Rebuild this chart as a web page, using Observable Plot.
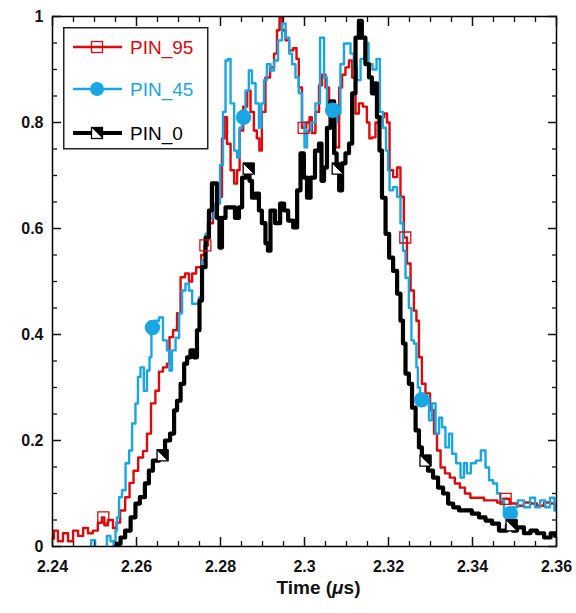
<!DOCTYPE html>
<html>
<head>
<meta charset="utf-8">
<script src="https://cdn.jsdelivr.net/npm/d3@7"></script>
<script src="https://cdn.jsdelivr.net/npm/@observablehq/plot@0.6"></script>
<style>
  body { margin: 0; background: #fff; }
  #chart { position: relative; width: 576px; height: 613px; }
  #legend { position: absolute; left: 63px; top: 27px; }
</style>
</head>
<body>
<div id="chart"></div>
<script>
// ---------- data ----------
const seriesNames = ["PIN_95", "PIN_45", "PIN_0"];
const seriesColors = ["#dc0a0a", "#1aa6e2", "#000000"];

const pin95T = [2.2400,2.2407,2.2419,2.2431,2.2443,2.2455,2.2467,2.2479,2.2490,2.2502,2.2514,2.2521,2.2526,2.2538,2.2550,2.2555,2.2567,2.2579,2.2588,2.2598,2.2610,2.2621,2.2629,2.2640,2.2650,2.2657,2.2669,2.2676,2.2681,2.2693,2.2700,2.2710,2.2721,2.2729,2.2736,2.2748,2.2760,2.2764,2.2776,2.2788,2.2800,2.2807,2.2812,2.2819,2.2829,2.2836,2.2843,2.2848,2.2860,2.2867,2.2876,2.2883,2.2890,2.2895,2.2902,2.2912,2.2924,2.2931,2.2938,2.2943,2.2950,2.2960,2.2967,2.2979,2.2983,2.2990,2.2998,2.3010,2.3014,2.3021,2.3031,2.3038,2.3045,2.3055,2.3062,2.3069,2.3079,2.3086,2.3093,2.3102,2.3110,2.3117,2.3126,2.3133,2.3145,2.3152,2.3157,2.3164,2.3174,2.3186,2.3193,2.3200,2.3205,2.3217,2.3224,2.3233,2.3240,2.3248,2.3257,2.3264,2.3269,2.3276,2.3283,2.3293,2.3305,2.3312,2.3319,2.3329,2.3340,2.3352,2.3364,2.3376,2.3388,2.3402,2.3419,2.3436,2.3450,2.3467,2.3479,2.3498,2.3514,2.3531,2.3545,2.3562,2.3579,2.3593,2.3600];
const pin95V = [0.015,0.03,0.01,0.025,0.01,0.03,0.02,0.035,0.025,0.03,0.045,0.055,0.04,0.05,0.035,0.045,0.068,0.093,0.12,0.143,0.168,0.18,0.213,0.27,0.294,0.33,0.338,0.345,0.395,0.408,0.44,0.508,0.515,0.50,0.515,0.527,0.55,0.568,0.61,0.634,0.66,0.77,0.81,0.76,0.71,0.685,0.71,0.785,0.83,0.86,0.82,0.785,0.77,0.747,0.82,0.885,0.904,0.93,0.974,0.998,0.974,0.955,0.936,0.94,0.92,0.866,0.79,0.80,0.81,0.78,0.82,0.87,0.89,0.866,0.82,0.80,0.753,0.866,0.89,0.904,0.917,0.885,0.817,0.836,0.83,0.80,0.77,0.772,0.80,0.81,0.817,0.80,0.71,0.697,0.715,0.66,0.583,0.534,0.483,0.445,0.426,0.357,0.307,0.289,0.257,0.213,0.181,0.149,0.138,0.130,0.119,0.111,0.10,0.092,0.092,0.087,0.087,0.083,0.09,0.081,0.077,0.083,0.081,0.077,0.083,0.081,0.07];

const pin45T = [2.2486,2.2498,2.2505,2.2526,2.2533,2.2543,2.2548,2.2552,2.2555,2.2562,2.2569,2.2579,2.2586,2.2593,2.2602,2.2605,2.2614,2.2621,2.2629,2.2633,2.2638,2.2650,2.2657,2.2669,2.2676,2.2681,2.2688,2.2698,2.2705,2.2712,2.2721,2.2729,2.2736,2.2745,2.2752,2.2760,2.2769,2.2776,2.2793,2.2805,2.2807,2.2817,2.2819,2.2829,2.2836,2.2843,2.2848,2.2855,2.2864,2.2871,2.2879,2.2888,2.2895,2.2900,2.2907,2.2914,2.2924,2.2931,2.2943,2.2950,2.2960,2.2967,2.2974,2.2983,2.2990,2.2998,2.3002,2.3010,2.3021,2.3031,2.3043,2.3050,2.3057,2.3067,2.3074,2.3081,2.3090,2.3098,2.3105,2.3114,2.3121,2.3129,2.3138,2.3148,2.3157,2.3167,2.3176,2.3183,2.3190,2.3198,2.3200,2.3205,2.3217,2.3224,2.3233,2.3236,2.3245,2.3252,2.3257,2.3264,2.3269,2.3271,2.3279,2.3293,2.3300,2.3307,2.3317,2.3324,2.3331,2.3340,2.3348,2.3355,2.3367,2.3376,2.3383,2.3390,2.3402,2.3414,2.3426,2.3436,2.3443,2.3455,2.3462,2.3471,2.3479,2.3490,2.3502,2.3514,2.3531,2.3543,2.3555,2.3567,2.3579,2.3590,2.3600];
const pin45V = [-0.05,0.012,-0.05,-0.05,0.02,0.01,-0.02,0.03,0.055,0.093,0.106,0.157,0.181,0.232,0.27,0.32,0.338,0.294,0.332,0.357,0.413,0.426,0.432,0.389,0.37,0.332,0.37,0.394,0.44,0.483,0.496,0.483,0.458,0.458,0.47,0.54,0.59,0.62,0.647,0.72,0.82,0.917,0.92,0.836,0.747,0.734,0.79,0.81,0.86,0.898,0.874,0.836,0.79,0.836,0.88,0.91,0.898,0.917,0.955,0.987,0.96,0.93,0.91,0.885,0.855,0.80,0.753,0.785,0.80,0.836,0.96,0.885,0.83,0.823,0.80,0.817,0.91,0.949,0.949,0.93,0.904,0.88,0.92,0.95,0.91,0.90,0.92,0.82,0.79,0.747,0.71,0.672,0.678,0.66,0.61,0.558,0.507,0.45,0.389,0.383,0.338,0.30,0.277,0.281,0.238,0.27,0.213,0.243,0.225,0.187,0.213,0.175,0.157,0.13,0.157,0.138,0.157,0.162,0.181,0.149,0.125,0.119,0.10,0.087,0.062,0.062,0.074,0.087,0.074,0.092,0.074,0.087,0.074,0.092,0.068];

const pin0T = [2.2550,2.2557,2.2567,2.2579,2.2593,2.2602,2.2614,2.2626,2.2633,2.2645,2.2662,2.2674,2.2686,2.2693,2.2700,2.2710,2.2717,2.2724,2.2733,2.2740,2.2748,2.2752,2.2760,2.2769,2.2776,2.2783,2.2788,2.2795,2.2800,2.2807,2.2817,2.2829,2.2840,2.2848,2.2855,2.2867,2.2871,2.2879,2.2888,2.2895,2.2902,2.2912,2.2914,2.2924,2.2936,2.2948,2.2955,2.2967,2.2979,2.2986,2.2995,2.3002,2.3010,2.3019,2.3031,2.3038,2.3043,2.3050,2.3057,2.3067,2.3074,2.3079,2.3086,2.3093,2.3102,2.3110,2.3117,2.3126,2.3133,2.3140,2.3150,2.3157,2.3164,2.3169,2.3176,2.3181,2.3188,2.3198,2.3205,2.3217,2.3224,2.3233,2.3236,2.3245,2.3252,2.3260,2.3269,2.3276,2.3283,2.3288,2.3300,2.3312,2.3324,2.3336,2.3348,2.3360,2.3376,2.3390,2.3407,2.3424,2.3438,2.3455,2.3471,2.3493,2.3498,2.3514,2.3531,2.3545,2.3562,2.3579,2.3593,2.3600];
const pin0V = [0,0.005,0.017,0.03,0.055,0.081,0.093,0.119,0.143,0.162,0.172,0.2,0.213,0.257,0.275,0.307,0.345,0.357,0.37,0.357,0.408,0.464,0.527,0.583,0.634,0.685,0.685,0.62,0.564,0.62,0.64,0.64,0.62,0.64,0.696,0.713,0.69,0.658,0.666,0.634,0.61,0.572,0.558,0.634,0.61,0.647,0.634,0.615,0.602,0.672,0.742,0.696,0.658,0.696,0.747,0.76,0.69,0.715,0.79,0.84,0.742,0.713,0.672,0.723,0.742,0.76,0.855,0.96,0.992,0.96,0.91,0.885,0.855,0.874,0.81,0.747,0.658,0.59,0.545,0.52,0.477,0.426,0.383,0.326,0.307,0.262,0.219,0.187,0.168,0.162,0.143,0.13,0.111,0.10,0.081,0.074,0.068,0.068,0.062,0.055,0.049,0.043,0.03,0.04,0.03,0.036,0.025,0.03,0.025,0.017,0.025,0.02];

// marker positions (time) for each series
const pin95MarkT = [2.2521, 2.2764, 2.2998, 2.3240, 2.3479];
const pin45MarkT = [2.2638, 2.2855, 2.3067, 2.3279, 2.3490];
const pin0MarkT  = [2.2662, 2.2867, 2.3079, 2.3288, 2.3493];

// axis ticks and labels
const xTicks = [2.24, 2.26, 2.28, 2.3, 2.32, 2.34, 2.36];
const xTickLabels = ["2.24", "2.26", "2.28", "2.3", "2.32", "2.34", "2.36"];
const xMinorTicks = [2.245,2.25,2.255,2.265,2.27,2.275,2.285,2.29,2.295,2.305,2.31,2.315,2.325,2.33,2.335,2.345,2.35,2.355];
const yTicks = [0, 0.2, 0.4, 0.6, 0.8, 1];
const yTickLabels = ["0", "0.2", "0.4", "0.6", "0.8", "1"];
const yMinorTicks = [0.05,0.1,0.15,0.25,0.3,0.35,0.45,0.5,0.55,0.65,0.7,0.75,0.85,0.9,0.95];
const xTitle = "Time (μs)";

// ---------- build tables ----------
const toRows = (T, V) => T.map((t, i) => ({t, v: V[i]}));
const rows95 = toRows(pin95T, pin95V);
const rows45 = toRows(pin45T, pin45V);
const rows0 = toRows(pin0T, pin0V);
function markRows(T, V, MT) {
  return MT.map(mt => {
    let best = 0;
    T.forEach((t, i) => { if (Math.abs(t - mt) < Math.abs(T[best] - mt)) best = i; });
    return {t: T[best], v: V[best]};
  });
}
const mk95 = markRows(pin95T, pin95V, pin95MarkT);
const mk45 = markRows(pin45T, pin45V, pin45MarkT);
const mk0 = markRows(pin0T, pin0V, pin0MarkT);
const xFmt = d => xTickLabels[xTicks.findIndex(t => Math.abs(t - d) < 1e-9)];
const yFmt = d => yTickLabels[yTicks.findIndex(t => Math.abs(t - d) < 1e-9)];

const halfTri = {
  draw(context, size) {
    const w = Math.sqrt(size) / 2;
    context.moveTo(-w, -w);
    context.lineTo(w, -w);
    context.lineTo(w, w);
    context.closePath();
  }
};

const chart = Plot.plot({
  width: 576,
  height: 613,
  marginLeft: 52,
  marginRight: 20,
  marginTop: 16,
  marginBottom: 67,
  x: {domain: [2.24, 2.36]},
  y: {domain: [0, 1]},
  style: {fontFamily: "'Liberation Sans', Arial, sans-serif", fontSize: "16px", fontWeight: "bold", color: "#111", background: "#fff"},
  marks: [
    Plot.line(rows95, {x: "t", y: "v", stroke: seriesColors[0], strokeWidth: 2.4, curve: "step", clip: true}),
    Plot.line(rows45, {x: "t", y: "v", stroke: seriesColors[1], strokeWidth: 2.4, curve: "step", clip: true}),
    Plot.line(rows0, {x: "t", y: "v", stroke: seriesColors[2], strokeWidth: 4.2, curve: "step", clip: true}),
    Plot.dot(mk95, {x: "t", y: "v", symbol: "square", r: 6.2, stroke: seriesColors[0], strokeWidth: 1.3, fill: "none"}),
    Plot.dot(mk45, {x: "t", y: "v", symbol: "circle", r: 7, fill: seriesColors[1], stroke: seriesColors[1]}),
    Plot.dot(mk0, {x: "t", y: "v", symbol: "square", r: 6.2, fill: "white", stroke: "black", strokeWidth: 1.3}),
    Plot.dot(mk0, {x: "t", y: "v", symbol: halfTri, r: 6.2, fill: "black", stroke: "black", strokeWidth: 1}),
    Plot.frame({stroke: "black", strokeWidth: 1.5}),
    // x axis
    Plot.axisX({ticks: xTicks, tickSize: 0, tickPadding: 14, tickFormat: xFmt, label: null}),
    Plot.axisX({ticks: xTicks, tickSize: -9, text: null, label: null, strokeWidth: 1.5}),
    Plot.axisX({ticks: xMinorTicks, tickSize: -5, text: null, label: null, strokeWidth: 1.3}),
    Plot.axisX({anchor: "top", ticks: xTicks, tickSize: -9, text: null, label: null, strokeWidth: 1.5}),
    Plot.axisX({anchor: "top", ticks: xMinorTicks, tickSize: -5, text: null, label: null, strokeWidth: 1.3}),
    // y axis
    Plot.axisY({ticks: yTicks, tickSize: 0, tickPadding: 9, tickFormat: yFmt, label: null}),
    Plot.axisY({ticks: yTicks, tickSize: -9, text: null, label: null, strokeWidth: 1.5}),
    Plot.axisY({ticks: yMinorTicks, tickSize: -5, text: null, label: null, strokeWidth: 1.3}),
    Plot.axisY({anchor: "right", ticks: yTicks, tickSize: -9, text: null, label: null, strokeWidth: 1.5}),
    Plot.axisY({anchor: "right", ticks: yMinorTicks, tickSize: -5, text: null, label: null, strokeWidth: 1.3}),
    Plot.text([xTitle], {frameAnchor: "bottom", dx: 14, dy: 47, fontSize: 19, fontWeight: "bold", fill: "#111"})
  ]
});

// italic mu in the axis title
d3.select(chart).selectAll("text").each(function () {
  if (this.textContent === xTitle) {
    const el = d3.select(this);
    el.text(null);
    el.append("tspan").text("Time (");
    el.append("tspan").attr("font-style", "italic").text("μ");
    el.append("tspan").text("s)");
  }
});

const container = document.getElementById("chart");
container.appendChild(chart);

// ---------- legend ----------
const lg = d3.select(container).append("svg")
  .attr("id", "legend")
  .attr("width", 146).attr("height", 123);
lg.append("rect").attr("x", 0.75).attr("y", 0.75).attr("width", 144).attr("height", 121)
  .attr("fill", "white").attr("stroke", "#222").attr("stroke-width", 1.5);
const rowY = [20, 62, 106];
const lineW = [2.4, 2.4, 4.2];
seriesNames.forEach((name, i) => {
  const g = lg.append("g").attr("transform", `translate(0,${rowY[i]})`);
  g.append("line").attr("x1", 10).attr("x2", 59).attr("y1", 0).attr("y2", 0)
    .attr("stroke", seriesColors[i]).attr("stroke-width", lineW[i]);
  const s = 11;
  if (i === 0) {
    g.append("rect").attr("x", 34 - s/2).attr("y", -s/2).attr("width", s).attr("height", s)
      .attr("fill", "none").attr("stroke", seriesColors[0]).attr("stroke-width", 1.3);
  } else if (i === 1) {
    g.append("circle").attr("cx", 34).attr("cy", 0).attr("r", 7).attr("fill", seriesColors[1]);
  } else {
    g.append("rect").attr("x", 34 - s/2).attr("y", -s/2).attr("width", s).attr("height", s)
      .attr("fill", "white").attr("stroke", "black").attr("stroke-width", 1.3);
    g.append("path").attr("d", `M${34 - s/2},${-s/2}L${34 + s/2},${-s/2}L${34 + s/2},${s/2}Z`).attr("fill", "black");
  }
  g.append("text").attr("x", 67).attr("y", 0).attr("dy", "0.36em")
    .attr("font-family", "'Liberation Sans', Arial, sans-serif").attr("font-size", 19)
    .attr("fill", seriesColors[i]).text(name);
});
</script>
</body>
</html>
